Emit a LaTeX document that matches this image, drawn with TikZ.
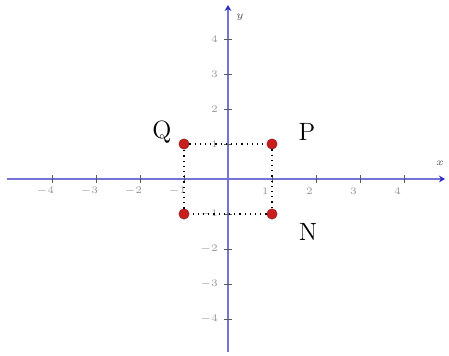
\documentclass[tikz,border=0pt]{standalone}
\usetikzlibrary{arrows.meta}
\definecolor{axc}{HTML}{7474D4}
\definecolor{axtip}{HTML}{2A2AC8}
\definecolor{ptc}{HTML}{C81E1E}
\tikzset{
  axis/.style={-{Stealth[length=3pt,width=3.4pt,color=axtip]}, line width=1.3pt, axc},
  tick/.style={line width=0.4pt, gray!70!black},
  ticklab/.style={font=\fontsize{4.5}{5}\selectfont, gray!80},
  pt/.style={circle, fill=ptc, draw=ptc!70!black, line width=0.2pt, inner sep=0pt, minimum size=5.2pt},
  guide/.style={dotted, line width=0.6pt},
  plab/.style={font=\fontsize{12.5}{14}\selectfont},
}

\begin{document}
\begin{tikzpicture}[x=22pt,y=17.5pt]
\useasboundingbox (-114pt,-88.5pt) rectangle (110.5pt,89.5pt);

% ===================== axes ==================================================
\coordinate (xs) at (-110.5pt,0);
\coordinate (xe) at (108.5pt,0);
\coordinate (ys) at (0,-86.5pt);
\coordinate (ye) at (0,87pt);
\draw[axis] (xs) -- (xe);
\draw[axis] (ys) -- (ye);
\node[ticklab, font=\fontsize{5.5}{6}\selectfont, gray!60!black] (xl) at (106pt,8pt) {$x$};
\node[ticklab, font=\fontsize{5.5}{6}\selectfont, gray!60!black] (yl) at (6pt,81pt) {$y$};

% ===================== ticks and their numbers ===============================
\foreach \k in {-4,-3,-2,-1,1,2,3,4}{
  \draw[tick] (\k,-2pt) -- (\k,2pt);
  \node[ticklab] (tx\k) at (\k-0.15,-6pt) {$\k$};
  \draw[tick] (-2pt,\k) -- (2pt,\k);
  \node[ticklab, anchor=east] (ty\k) at (-1.5pt,\k) {$\k$};
}

% ===================== rectangle of points ===================================
\node[pt] (Q) at (-1,1) {};
\node[pt] (P) at (1,1) {};
\node[pt] (N) at (1,-1) {};
\node[pt] (M) at (-1,-1) {};
\draw[guide] (Q) -- (P) -- (N) -- (M) -- (Q);

\node[plab] (lQ) at (-33pt,23.5pt) {Q};
\node[plab] (lP) at (39.5pt,23.5pt) {P};
\node[plab] (lN) at (40pt,-26.5pt) {N};

\end{tikzpicture}
\end{document}
